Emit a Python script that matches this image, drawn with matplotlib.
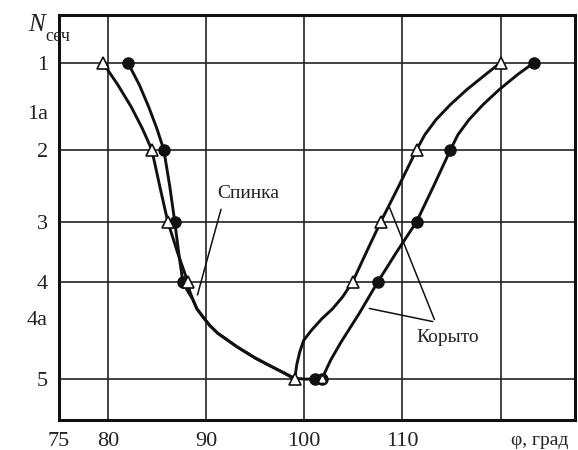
import matplotlib.pyplot as plt

# ----------------------------------------------------------------
# data
# ----------------------------------------------------------------
SECTIONS = ['1', '1a', '2', '3', '4', '4a', '5']
SECTION_Y = [1.0, 1.62, 2.10, 3.01, 3.77, 4.23, 5.0]
MAIN_SECTIONS = ['1', '2', '3', '4', '5']

# markers, triangles (open)
tri_phi = [79.47, 84.46, 86.09, 88.13, 99.03, 104.93, 107.8, 111.45, 120.0]
tri_sec = ['1', '2', '3', '4', '5', '4', '3', '2', '1']
# markers, circles (filled)
circ_phi = [82.02, 85.68, 86.80, 87.62, 101.06, 101.78, 107.5, 111.45, 114.9, 123.4]
circ_sec = ['1', '2', '3', '4', '5', '5', '4', '3', '2', '1']

# traced curves (phi, y)
tri_curve_phi = [79.47, 81.00, 82.37, 83.49, 84.46, 85.27, 86.09, 87.11, 88.13,
                 88.33, 88.63, 89.05, 89.65, 90.35, 91.18, 93.12, 94.95, 96.48, 97.90, 99.03,
                 99.23, 99.53, 99.94, 100.75, 101.77, 102.89, 103.91, 104.93,
                 106.35, 107.8, 109.63, 111.45,
                 112.29, 113.43, 114.89, 116.57, 118.47, 120.0]
tri_curve_y = [1.0, 1.28, 1.56, 1.83, 2.10, 2.56, 3.01, 3.41, 3.77,
               3.89, 3.99, 4.11, 4.21, 4.32, 4.42, 4.59, 4.73, 4.83, 4.92, 5.0,
               4.82, 4.66, 4.51, 4.38, 4.24, 4.11, 3.96, 3.77,
               3.39, 3.01, 2.56, 2.10,
               1.91, 1.72, 1.53, 1.34, 1.15, 1.0]
circ_curve_phi = [82.02, 83.19, 84.15, 84.97, 85.68, 86.29, 86.80, 87.21, 87.62,
                  88.13, 88.63, 89.05, 89.65, 90.35, 91.18, 93.12, 94.95, 96.48, 97.90, 99.03,
                  100.05, 101.06, 101.78,
                  102.69, 103.71, 105.65, 107.5, 109.43, 111.45, 113.18, 114.9,
                  115.66, 116.79, 118.22, 119.87, 121.74, 123.4]
circ_curve_y = [1.0, 1.28, 1.56, 1.83, 2.10, 2.56, 3.01, 3.41, 3.77,
                3.89, 3.99, 4.11, 4.21, 4.32, 4.42, 4.59, 4.73, 4.83, 4.92, 4.99,
                5.0, 5.0, 5.0,
                4.76, 4.54, 4.16, 3.77, 3.39, 3.01, 2.56, 2.10,
                1.91, 1.72, 1.53, 1.34, 1.15, 1.0]

X_TICKS = [75, 80, 90, 100, 110]
X_GRID = [80, 90, 100, 110, 120]

ypos = dict(zip(SECTIONS, SECTION_Y))

plt.rcParams['font.family'] = ['Liberation Serif', 'DejaVu Serif']

fig = plt.figure(figsize=(5.78, 4.5), dpi=100)
ax = fig.add_axes([0.102, 0.0667, 0.893, 0.9])

ax.set_xlim(75, 127.6)
ax.set_ylim(5.517, 0.397)

# grid
for x in X_GRID:
    ax.axvline(x, color='#222222', lw=1.2, zorder=1)
for s in MAIN_SECTIONS:
    ax.axhline(ypos[s], color='#222222', lw=1.2, zorder=1)

# curves
ax.plot(tri_curve_phi, tri_curve_y, color='#111111', lw=2.1, zorder=3,
        solid_joinstyle='round')
ax.plot(circ_curve_phi, circ_curve_y, color='#111111', lw=2.1, zorder=3,
        solid_joinstyle='round')

# markers
ax.plot(circ_phi, [ypos[s] for s in circ_sec], 'o', color='#111111', ms=8, zorder=4)
ax.plot(tri_phi, [ypos[s] for s in tri_sec], '^', mfc='white', mec='#111111',
        mew=1.2, ms=8, zorder=5)
ax.plot([101.78], [ypos['5']], '^', mfc='white', mec='white', ms=3.5, zorder=6)

# annotations
line_kw = dict(arrowstyle='-', color='#111111', lw=1.1)
ax.annotate('', xy=(89.04, 3.97), xytext=(91.59, 2.82), arrowprops=line_kw)
ax.text(94.25, 2.65, 'Спинка', fontsize=14, ha='center', va='center', color='#222222')
ax.annotate('', xy=(108.59, 2.80), xytext=(113.37, 4.28), arrowprops=line_kw)
ax.annotate('', xy=(106.35, 4.10), xytext=(113.37, 4.28), arrowprops=line_kw)
ax.text(114.6, 4.47, 'Корыто', fontsize=14, ha='center', va='center', color='#222222')

# ticks
ax.set_xticks(X_TICKS)
ax.set_xticklabels([str(v) for v in X_TICKS])
ax.set_yticks([ypos[s] for s in SECTIONS])
ax.set_yticklabels(SECTIONS)
ax.tick_params(length=0, labelsize=16, colors='#222222')
ax.tick_params(axis='x', pad=9)
ax.tick_params(axis='y', pad=8)

for sp in ax.spines.values():
    sp.set_linewidth(2.2)
    sp.set_color('#111111')

# axis captions
fig.text(0.934, 0.021, 'φ, град', fontsize=14, ha='center', va='center',
         color='#222222')
fig.text(0.064, 0.945, 'N', fontsize=18, style='italic', ha='center', va='center',
         color='#222222')
fig.text(0.079, 0.918, 'сеч', fontsize=13, ha='left', va='center', color='#222222')

fig.savefig('out.png', dpi=100)
